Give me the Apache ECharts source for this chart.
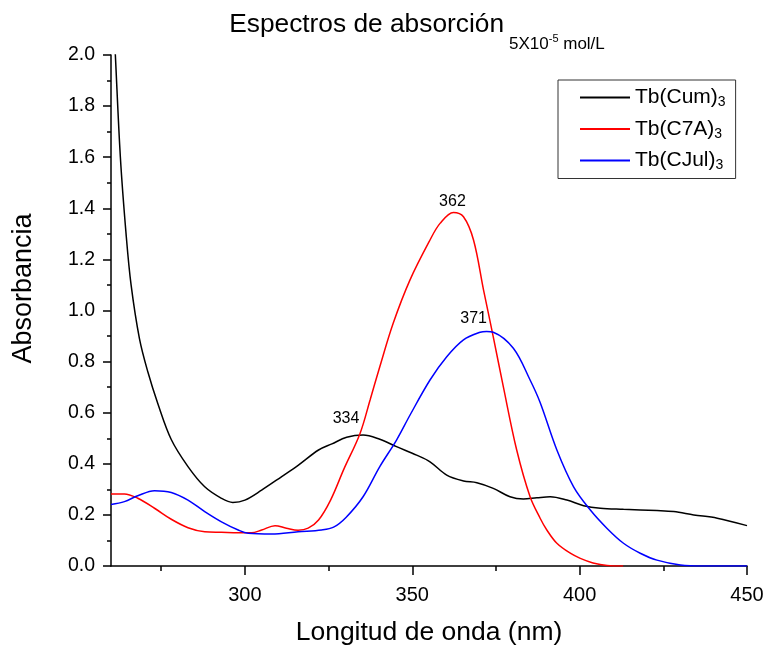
<!DOCTYPE html>
<html><head><meta charset="utf-8">
<script src="https://cdn.jsdelivr.net/npm/echarts@6/dist/echarts.min.js"></script>
<style>html,body{margin:0;padding:0;background:#fff}#c{width:765px;height:645px}</style>
</head><body><div id="c"></div>
<script>
const seriesNames = ['Tb(Cum)', 'Tb(C7A)', 'Tb(CJul)'];
const seriesColors = ['#000000', '#ff0000', '#0000ff'];
const xMajorTicks = [300, 350, 400, 450];
const xMinorTicks = [275, 325, 375, 425];
const peakLabels = ['334', '362', '371'];

const cumWl  = [260,261.3,262.8,264.5,266,268.5,271,274,278,283,288,293,296.4,300,305,311,316,322,326,330.4,335.3,340.3,345.3,351.3,355.3,360.3,365.3,369.3,374.2,379.2,383.2,387.2,391.2,396.2,401.2,406.2,413.1,423.1,428.1,434.1,441.1,450];
const cumAbs = [2.35,2.00,1.60,1.30,1.10,0.89,0.76,0.635,0.495,0.389,0.310,0.265,0.249,0.258,0.297,0.350,0.395,0.454,0.478,0.504,0.513,0.496,0.467,0.434,0.408,0.356,0.333,0.326,0.304,0.271,0.262,0.267,0.271,0.258,0.236,0.226,0.222,0.217,0.213,0.200,0.187,0.158];

const c7aWl  = [260,264,268,273,278,283,288,293,298,302,305,309,312.4,315.9,318.9,322,325.6,329.6,334.4,337.4,340.3,344.3,349.3,355.3,358.3,362.3,365.3,368.3,371.3,374.2,377.2,381.2,385.2,388.2,390.2,393.2,397.2,400.2,404,408.2,413];
const c7aAbs = [0.282,0.282,0.265,0.226,0.183,0.150,0.134,0.132,0.130,0.130,0.141,0.158,0.148,0.140,0.148,0.180,0.258,0.380,0.519,0.650,0.780,0.950,1.119,1.276,1.341,1.384,1.367,1.276,1.080,0.897,0.702,0.454,0.271,0.187,0.141,0.089,0.050,0.030,0.012,0.002,0];

const cjulWl  = [260,264,268,273,278,283,288,293,298,301,308,315.9,322.9,326.5,330.2,335.3,340.3,345.3,349.3,355.3,360.3,365.3,370.3,372.2,374.2,380.2,385.2,388.2,393.2,398.2,403.2,408.2,413.1,418.1,423.1,430.1,437,450];
const cjulAbs = [0.241,0.252,0.275,0.295,0.288,0.258,0.213,0.173,0.141,0.128,0.125,0.134,0.141,0.152,0.19,0.271,0.389,0.493,0.590,0.728,0.819,0.885,0.915,0.918,0.915,0.852,0.728,0.640,0.454,0.310,0.219,0.147,0.089,0.050,0.023,0.004,0,0];

const wls = [cumWl, c7aWl, cjulWl];
const abss = [cumAbs, c7aAbs, cjulAbs];
const peakWindows = [[320, 350], [340, 380], [360, 390]];
const labelOffsets = [[-17, -16], [-1, -11], [-13, -13]];

const chart = echarts.init(document.getElementById('c'));
const FONT = 'Liberation Sans, Arial, sans-serif';

const series = seriesNames.map((name, i) => {
  const data = wls[i].map((w, k) => [w, abss[i][k]]);
  let best = null;
  data.forEach(p => { if (p[0] >= peakWindows[i][0] && p[0] <= peakWindows[i][1] && (!best || p[1] > best[1])) best = p; });
  return {
    name, type: 'line', data, smooth: 0.35,
    symbol: 'none', clip: true, xAxisIndex: 0,
    lineStyle: { color: seriesColors[i], width: 1.5 },
    itemStyle: { color: seriesColors[i] },
    markPoint: {
      symbol: 'circle', symbolSize: 0, silent: true,
      data: [{ coord: best, value: peakLabels[i] }],
      label: { show: true, position: 'inside', offset: labelOffsets[i], formatter: peakLabels[i],
        color: '#000', fontSize: 16, fontFamily: FONT }
    }
  };
});

chart.setOption({
  animation: false,
  backgroundColor: '#fff',
  title: {
    text: '{a|Espectros de absorción} {b|5X10}{c|-5}{b| mol/L}',
    left: 417, top: 12, padding: 0, textAlign: 'center',
    textStyle: {
      fontWeight: 'normal',
      rich: {
        a: { fontSize: 26.3, fontFamily: FONT, fontWeight: 'normal', color: '#000', lineHeight: 41, verticalAlign: 'top' },
        b: { fontSize: 17, fontFamily: FONT, fontWeight: 'normal', color: '#000', verticalAlign: 'bottom' },
        c: { fontSize: 11, fontFamily: FONT, fontWeight: 'normal', color: '#000', verticalAlign: 'top', padding: [21, 0, 0, 0] }
      }
    }
  },
  legend: {
    orient: 'vertical', left: 558, top: 80,
    data: seriesNames,
    padding: [7, 10, 6, 21], itemGap: 9,
    itemWidth: 50, itemHeight: 14,
    borderColor: '#333', borderWidth: 1,
    itemStyle: { opacity: 0 },
    formatter: n => n + '{s|3}',
    textStyle: { fontSize: 21, fontFamily: FONT, color: '#000',
      rich: { s: { fontSize: 14, fontFamily: FONT, color: '#000', verticalAlign: 'bottom', padding: [10, 0, 0, 0] } } }
  },
  grid: { left: 111, right: 18, top: 55, bottom: 79, containLabel: false, outerBoundsMode: 'none' },
  xAxis: [{
    type: 'value', min: 260, max: 450,
    name: 'Longitud de onda (nm)', nameLocation: 'middle', nameGap: 53,
    nameTextStyle: { fontSize: 26.5, fontFamily: FONT, color: '#000' },
    axisLine: { show: true, onZero: false, lineStyle: { color: '#000', width: 1.5 } },
    axisTick: { show: true, customValues: xMajorTicks, length: 9, lineStyle: { color: '#000', width: 1.5 } },
    axisLabel: { customValues: xMajorTicks, fontSize: 20, fontFamily: FONT, color: '#000', margin: 19 },
    splitLine: { show: false }
  }, {
    type: 'value', min: 260, max: 450, position: 'bottom',
    axisLine: { show: false },
    axisTick: { show: true, customValues: xMinorTicks, length: 5, lineStyle: { color: '#000', width: 1.5 } },
    axisLabel: { show: false }, splitLine: { show: false }
  }],
  yAxis: {
    type: 'value', min: 0, max: 2, interval: 0.2,
    name: 'Absorbancia', nameLocation: 'middle', nameGap: 74,
    nameTextStyle: { fontSize: 27, fontFamily: FONT, color: '#000', padding: [0, 0, 0, 44] },
    axisLine: { show: true, lineStyle: { color: '#000', width: 1.5 } },
    axisTick: { show: true, length: 8, lineStyle: { color: '#000', width: 1.5 } },
    minorTick: { show: true, splitNumber: 2, length: 4, lineStyle: { color: '#000', width: 1.5 } },
    axisLabel: { fontSize: 19.5, fontFamily: FONT, color: '#000', margin: 16, formatter: v => v.toFixed(1) },
    splitLine: { show: false }
  },
  series
});
</script></body></html>
